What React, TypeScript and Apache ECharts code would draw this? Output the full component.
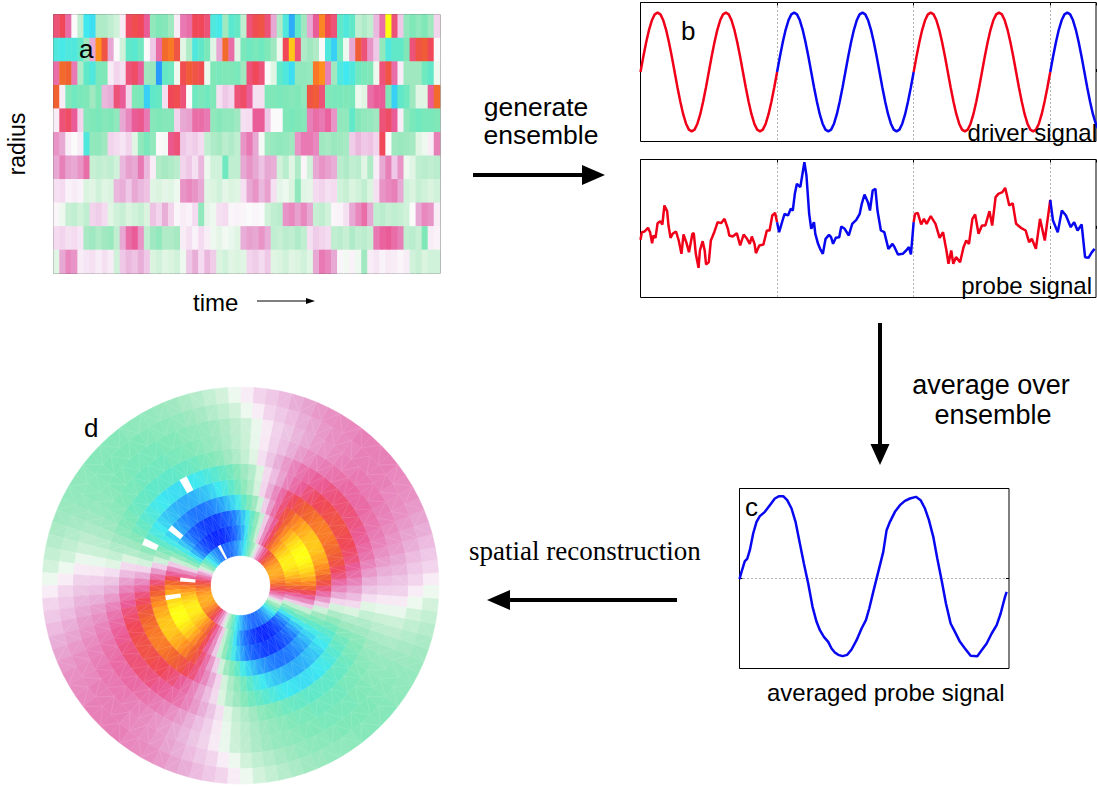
import React, { useEffect, useRef } from "react";
import * as echarts from "echarts";

const colorScale = ["#0a28ff","#1550ff","#2080ff","#30b8f8","#40e8f0","#60e8c8","#80e8b8","#a0e8c0","#c0eed0","#e0f5e4","#fafafa","#f5e0f2","#eec8e6","#e8a8d4","#e880b8","#ea5c98","#f04858","#f06030","#ff9020","#ffc818","#ffff10"];

const heatRows: number[][] = [
[.55,.6,.45,0,-.2,-.6,-.62,-.25,-.25,-.2,-.15,.05,.58,.62,.6,.5,-.35,-.4,-.38,-.3,.05,.42,.45,.6,.6,.55,-.55,-.58,-.3,-.52,-.48,-.2,.55,.62,.65,.55,.3,-.25,-.55,-.72,-.5,-.3,.3,.5,.78,.6,.55,-.5,-.55,-.5,-.2,-.25,-.2,.25,.45,1,.55,.2,-.35,-.4,-.35,-.4,-.3,.15],
[-.55,-.58,-.55,-.55,-.5,-.3,.3,.8,.65,.3,0,-.15,-.5,-.52,-.45,0,.2,.45,.72,.75,.65,-.1,-.25,-.55,-.5,-.42,-.1,.3,.72,.45,-.1,-.42,-.45,-.42,-.45,-.4,-.3,-.05,.6,.9,.55,-.25,-.3,-.25,0,-.55,-.65,-.45,-.05,.3,.68,.55,.35,.2,-.35,-.55,-.5,-.5,-.4,.55,.65,.68,.6,0],
[.45,.72,.7,.42,-.25,-.5,-.55,-.42,-.4,.05,.15,.1,.55,.58,.5,-.3,-.32,-.75,-.48,-.45,-.05,.62,.68,.65,.62,-.05,-.4,-.42,-.4,-.4,-.42,-.3,.55,.6,.55,0,-.1,-.5,-.55,-.62,-.35,-.35,-.33,.75,.8,.4,-.3,-.55,-.6,-.55,-.45,-.42,-.4,-.05,.55,.65,.45,.05,-.3,-.3,-.3,-.45,-.5,-.05],
[.7,.05,-.4,-.45,-.42,-.4,-.3,-.4,.25,.28,.55,.5,.15,-.4,-.42,-.65,-.5,-.48,.1,.6,.62,.55,0,-.45,-.42,-.45,-.4,.1,.2,.15,.55,.58,.5,.1,.1,-.4,-.4,-.42,-.4,-.38,-.4,-.35,.65,.68,.55,-.4,-.42,-.42,-.4,-.42,-.05,-.1,.45,.5,.5,-.4,-.65,-.5,-.45,-.3,-.1,-.1,.5,.72],
[.05,.55,.58,.5,.15,-.38,-.4,-.42,-.38,-.4,-.35,.3,.38,.5,.52,.42,-.38,-.4,-.38,-.38,.15,.3,.32,.45,.45,.42,-.35,-.38,-.35,-.35,-.3,.1,.12,.5,.5,.2,0,0,-.4,-.42,-.4,-.38,.4,.45,.42,.48,.35,-.35,-.35,-.5,-.38,-.35,-.33,-.3,.55,.58,.5,.05,-.35,-.42,-.45,-.42,-.42,-.4],
[.35,.3,.05,0,.05,-.55,-.35,-.35,-.3,.15,.12,.08,.15,-.1,-.35,-.42,-.35,0,-.02,.52,.55,.2,.15,.18,.12,-.2,-.25,-.28,-.22,-.25,-.2,.35,.42,.3,-.02,-.3,-.33,-.35,-.33,-.3,.35,.42,.42,.38,-.3,-.28,-.32,-.3,-.28,.18,.25,.2,.22,.15,.6,0,-.3,-.32,-.3,-.28,-.1,-.05,.05,.4],
[.3,.4,.32,.3,.35,.45,-.18,-.2,-.18,-.2,-.15,.25,.32,.3,.42,.25,.05,-.25,-.28,-.25,-.22,.15,.2,.1,.25,-.05,-.15,-.15,-.45,-.2,-.2,.3,.35,.3,.22,.3,.28,-.15,-.22,-.1,-.25,.02,-.15,.3,.35,.32,.28,-.22,-.25,-.2,-.22,-.1,-.25,.05,.3,.4,.2,.35,-.05,-.1,-.2,-.22,-.2,-.22],
[.1,.12,.03,.05,.03,-.12,-.1,-.15,-.1,-.12,.25,.28,.2,.3,.25,.22,-.1,-.12,-.08,-.1,-.05,.35,.38,.35,.3,-.1,-.12,-.15,-.08,-.12,-.1,.1,.3,.35,.25,.32,.1,-.08,-.05,-.12,-.35,-.1,-.08,.12,.15,.1,.12,-.15,-.18,-.12,-.15,-.2,-.12,.1,.35,.38,.4,.3,-.15,-.12,-.18,-.15,-.12,-.15],
[.02,-.05,-.18,-.2,-.15,-.2,.15,.18,.12,-.1,-.15,-.18,-.12,-.15,-.18,-.12,.22,.15,.28,.15,.02,.05,.03,.12,-.35,-.08,-.05,.1,.12,.02,.03,.02,0,.02,0,-.15,-.2,-.22,.35,.38,.32,.38,.3,-.18,-.2,-.15,.02,.03,.1,.3,.38,.45,.3,-.2,-.22,-.18,-.2,-.18,-.15,0,.3,.38,.35,.05],
[.12,.15,.1,.12,.08,-.28,-.3,-.25,-.3,-.32,-.2,.3,.45,.5,.35,-.2,-.3,-.35,-.25,-.25,-.28,.05,.1,.03,.12,.05,-.05,-.08,-.03,-.06,-.1,.28,.32,.3,.35,.28,-.2,-.18,-.22,-.2,-.25,-.2,.1,.18,.15,.12,-.2,-.22,-.18,-.25,-.2,-.22,-.18,.42,.48,.5,.45,.4,-.2,-.22,-.18,-.4,.05,.03],
[-.1,.3,.38,.35,.05,.08,.1,.05,.1,.05,-.15,.2,.25,.22,.28,.2,-.12,-.15,-.1,-.12,-.15,-.05,.2,.28,.12,.25,.18,-.12,-.15,-.1,-.12,-.1,.15,.18,.12,.2,-.1,-.12,-.15,-.1,-.12,-.15,-.1,.3,.42,.38,.3,.02,-.03,.03,-.05,-.3,.05,.08,.03,.06,.05,.02,.05,-.15,-.18,-.12,-.15,-.15],
];

const driverLevels = [
0,.26,.5,.71,.87,.97,1,.97,.87,.71,.5,.26,0,-.26,-.5,-.71,-.87,-.97,-1,-.97,-.87,-.71,-.5,-.26,
0,.26,.5,.71,.87,.97,1,.97,.87,.71,.5,.26,0,-.26,-.5,-.71,-.87,-.97,-1,-.97,-.87,-.71,-.5,-.26,
0,.26,.5,.71,.87,.97,1,.97,.87,.71,.5,.26,0,-.26,-.5,-.71,-.87,-.97,-1,-.97,-.87,-.71,-.5,-.26,
0,.26,.5,.71,.87,.97,1,.97,.87,.71,.5,.26,0,-.26,-.5,-.71,-.87,-.97,-1,-.97,-.87,-.71,-.5,-.26,
0,.26,.5,.71,.87,.97,1,.97,.87,.71,.5,.26,0,-.26,-.5,-.71,-.87,-.97,-1,-.97,-.87,-.71,-.5,-.26,
0,.26,.5,.71,.87,.97,1,.97,.87,.71,.5,.26,0,-.26,-.5,-.71,-.87,-.97,-1,-.97,-.87,-.71,-.5,-.26,
0,.26,.5,.71,.87,.97,1,.97,.87,.71,.5,.26,0,-.26,-.5,-.71,-.87,-.97,
];

const probeA = [[0,-.33],[.02,-.1],[.06,-.08],[.11,.03],[.14,-.1],[.17,-.43],[.19,-.2],[.22,-.27],[.25,.17],[.29,.23],[.32,.13],[.35,.7],[.39,.53],[.41,.1],[.44,-.27],[.47,-.15],[.52,-.08],[.56,-.35],[.6,-.75],[.63,-.17],[.67,-.4],[.71,-.7],[.76,-.15],[.78,-.13],[.81,-.75],[.85,-1.17],[.87,-.65],[.91,-.37],[.94,-.65],[.96,-1.07],[1,-1],[1.03,-.35],[1.08,-.1],[1.13,.2],[1.18,.17],[1.23,.3],[1.28,0],[1.3,-.2],[1.35,-.23],[1.41,-.13],[1.46,-.5],[1.51,-.17],[1.56,-.3],[1.6,-.45],[1.63,-.23],[1.67,-.45],[1.69,-.73],[1.74,-.5],[1.8,-.47],[1.85,-.05],[1.89,-.05],[1.93,.4],[1.97,.48],[2,.2]];
const probeB = [[2,.2],[2.03,-.1],[2.08,.25],[2.11,.45],[2.16,.4],[2.2,.6],[2.23,.55],[2.26,1.05],[2.29,1.35],[2.34,1.25],[2.38,1.75],[2.4,2],[2.43,1.6],[2.47,.45],[2.5,0],[2.54,.2],[2.56,-.15],[2.6,-.45],[2.63,-.6],[2.67,-.75],[2.71,-.3],[2.76,-.18],[2.79,-.25],[2.82,-.45],[2.86,-.27],[2.91,-.25],[2.94,.07],[2.99,0],[3.05,-.2],[3.1,.15],[3.16,.27],[3.21,.45],[3.24,.75],[3.28,1.03],[3.33,.8],[3.36,.55],[3.4,1.15],[3.44,1.2],[3.47,.55],[3.52,-.05],[3.57,-.1],[3.63,-.6],[3.69,-.45],[3.72,-.55],[3.77,-.77],[3.84,-.75],[3.89,-.65],[3.93,-.55],[3.96,-.77],[4,.2]];
const probeC = [[4,.2],[4.02,.45],[4.06,.48],[4.11,.13],[4.15,.3],[4.19,.15],[4.25,.38],[4.32,.15],[4.38,-.27],[4.43,-.1],[4.48,-.65],[4.51,-1.05],[4.55,-.65],[4.58,-1.05],[4.62,-.85],[4.68,-1],[4.73,-.55],[4.77,-.35],[4.81,-.45],[4.86,.3],[4.9,.43],[4.95,-.15],[5,.1],[5.05,.1],[5.11,.53],[5.15,.1],[5.2,.95],[5.24,1.05],[5.3,1.1],[5.34,1.23],[5.4,.7],[5.45,.77],[5.5,.15],[5.57,.03],[5.64,-.05],[5.69,-.4],[5.73,-.3],[5.79,-.6],[5.85,.3],[5.92,-.35],[6,.87]];
const probeD = [[6,.87],[6.04,.25],[6.11,-.1],[6.17,.55],[6.23,.4],[6.3,.05],[6.35,.2],[6.4,-.05],[6.46,.13],[6.51,-.85],[6.56,-.87],[6.61,-.7],[6.65,-.6]];

const averaged = [[0,-.02],[.06,.2],[.16,.52],[.23,.59],[.31,.85],[.41,1.35],[.51,1.7],[.61,1.87],[.76,2],[.91,2.2],[1.06,2.4],[1.19,2.47],[1.31,2.47],[1.43,2.35],[1.56,2.1],[1.68,1.7],[1.81,1.05],[1.93,.45],[2.06,-.15],[2.19,-.85],[2.31,-1.3],[2.41,-1.55],[2.53,-1.75],[2.66,-1.9],[2.76,-2.1],[2.86,-2.22],[2.96,-2.29],[3.09,-2.33],[3.23,-2.29],[3.36,-2.13],[3.51,-1.85],[3.66,-1.5],[3.79,-1.25],[3.89,-.9],[4.01,-.4],[4.16,.2],[4.31,.8],[4.41,1.45],[4.51,1.7],[4.66,2],[4.81,2.2],[4.96,2.33],[5.11,2.4],[5.29,2.45],[5.43,2.35],[5.56,2.1],[5.68,1.75],[5.81,1.25],[5.93,.6],[6.06,-.05],[6.19,-.75],[6.33,-1.35],[6.46,-1.6],[6.61,-1.9],[6.76,-2.1],[6.93,-2.32],[7.13,-2.33],[7.26,-2.15],[7.41,-1.95],[7.56,-1.65],[7.71,-1.4],[7.83,-1.05],[7.96,-.55],[8.01,-.4]];

// one half turn of each ring of panel d, innermost ring first, starting where the ring turns positive
const ringLevels: number[][] = [
[.17,.32,.43,.52,.6,.66,.71,.76,.79,.82,.84,.85,.85,.84,.82,.79,.76,.71,.66,.6,.52,.43,.32,.17,-.17,-.32,-.43,-.52,-.6,-.66,-.71,-.76,-.79,-.82,-.84,-.85,-.85,-.84,-.82,-.79,-.76,-.71,-.66,-.6,-.52,-.43,-.32,-.17],
[.19,.37,.49,.59,.69,.76,.81,.86,.9,.93,.96,.97,.97,.96,.93,.9,.86,.81,.76,.69,.59,.49,.37,.19,-.2,-.38,-.5,-.61,-.71,-.78,-.84,-.89,-.93,-.96,-.99,-1,-1,-.99,-.96,-.93,-.89,-.84,-.78,-.71,-.61,-.5,-.38,-.2],
[.2,.38,.5,.61,.71,.78,.84,.89,.93,.96,.99,1,1,.99,.96,.93,.89,.84,.78,.71,.61,.5,.38,.2,-.19,-.36,-.48,-.58,-.67,-.74,-.8,-.85,-.88,-.91,-.94,-.95,-.95,-.94,-.91,-.88,-.85,-.8,-.74,-.67,-.58,-.48,-.36,-.19],
[.18,.34,.45,.55,.64,.7,.76,.8,.84,.86,.89,.9,.9,.89,.86,.84,.8,.76,.7,.64,.55,.45,.34,.18,-.16,-.31,-.41,-.5,-.58,-.64,-.69,-.73,-.76,-.79,-.81,-.82,-.82,-.81,-.79,-.76,-.73,-.69,-.64,-.58,-.5,-.41,-.31,-.16],
[.15,.29,.38,.46,.54,.59,.64,.68,.71,.73,.75,.76,.76,.75,.73,.71,.68,.64,.59,.54,.46,.38,.29,.15,-.14,-.27,-.36,-.44,-.51,-.56,-.6,-.64,-.67,-.69,-.71,-.72,-.72,-.71,-.69,-.67,-.64,-.6,-.56,-.51,-.44,-.36,-.27,-.14],
[.13,.24,.32,.39,.45,.5,.54,.57,.6,.61,.63,.64,.64,.63,.61,.6,.57,.54,.5,.45,.39,.32,.24,.13,-.12,-.24,-.31,-.38,-.44,-.48,-.52,-.55,-.58,-.6,-.61,-.62,-.62,-.61,-.6,-.58,-.55,-.52,-.48,-.44,-.38,-.31,-.24,-.12],
[.11,.21,.28,.34,.39,.43,.46,.49,.51,.53,.54,.55,.55,.54,.53,.51,.49,.46,.43,.39,.34,.28,.21,.11,-.1,-.19,-.25,-.3,-.36,-.39,-.42,-.45,-.47,-.48,-.5,-.5,-.5,-.5,-.48,-.47,-.45,-.42,-.39,-.36,-.3,-.25,-.19,-.1],
[.07,.17,.23,.28,.33,.36,.39,.41,.43,.44,.46,.46,.46,.46,.44,.43,.41,.39,.36,.33,.28,.23,.17,.07,-.07,-.17,-.22,-.27,-.31,-.34,-.37,-.39,-.41,-.42,-.44,-.44,-.44,-.44,-.42,-.41,-.39,-.37,-.34,-.31,-.27,-.22,-.17,-.07],
[.06,.16,.21,.26,.3,.33,.35,.37,.39,.4,.42,.42,.42,.42,.4,.39,.37,.35,.33,.3,.26,.21,.16,.06,-.06,-.16,-.21,-.26,-.3,-.33,-.35,-.37,-.39,-.4,-.42,-.42,-.42,-.42,-.4,-.39,-.37,-.35,-.33,-.3,-.26,-.21,-.16,-.06],
[.05,.15,.2,.24,.28,.31,.34,.36,.37,.38,.4,.4,.4,.4,.38,.37,.36,.34,.31,.28,.24,.2,.15,.05,-.05,-.15,-.2,-.24,-.28,-.31,-.34,-.36,-.37,-.38,-.4,-.4,-.4,-.4,-.38,-.37,-.36,-.34,-.31,-.28,-.24,-.2,-.15,-.05],
[.05,.15,.2,.24,.28,.31,.34,.36,.37,.38,.4,.4,.4,.4,.38,.37,.36,.34,.31,.28,.24,.2,.15,.05,-.05,-.14,-.19,-.23,-.27,-.3,-.32,-.34,-.35,-.36,-.38,-.38,-.38,-.38,-.36,-.35,-.34,-.32,-.3,-.27,-.23,-.19,-.14,-.05],
];
const ringStart = [-6,-5,-5,-4,-3,-3,-2,-2,-2,-1,0];
const blankCells = [[5,31],[3,37],[4,41],[0,31],[1,46],[2,50]];

const SECTORS = 96;
const heatData: number[][] = [];
heatRows.forEach((row, y) => row.forEach((v, x) => heatData.push([x, y, v])));
const ringData: number[][] = [];
ringLevels.forEach((row, ring) => {
  for (let k = 0; k < SECTORS; k++) {
    const s = ((k + ringStart[ring]) % SECTORS + SECTORS) % SECTORS;
    ringData.push([ring, s, row[k % row.length]]);
  }
});
const driverPoints = driverLevels.map((v, i) => [i / 24, v]);
const RED = "#f00018", BLUE = "#0808f0";
const rowNames = heatRows.map((_, i) => String(i));
const colNames = heatRows[0].map((_, i) => String(i));

function cellItem(params: any, api: any) {
  const ring = api.value(0), s = api.value(1);
  const a = api.coord([ring, s]), b = api.coord([ring + 1, s]);
  const c = api.coord([ring + 1, s + 1]), d = api.coord([ring, s + 1]);
  const color = api.visual("color");
  return {
    type: "group",
    children: [
      { type: "polygon", shape: { points: [a, b, c, d] }, style: { fill: color, stroke: color, lineWidth: 0.5 } },
      { type: "line", shape: { x1: s % 2 ? a[0] : b[0], y1: s % 2 ? a[1] : b[1], x2: s % 2 ? c[0] : d[0], y2: s % 2 ? c[1] : d[1] }, style: { stroke: "rgba(255,255,255,0.2)", lineWidth: 0.6 } },
    ],
  };
}
function blankItem(params: any, api: any) {
  const ring = api.value(0), s = api.value(1);
  return {
    type: "polygon",
    shape: { points: [api.coord([ring, s]), api.coord([ring + 1, s]), api.coord([ring + 1, s + 1]), api.coord([ring, s + 1])] },
    style: { fill: "#fff" },
  };
}

const label = (text: string, x: number, y: number, size: number, family = "Liberation Sans", align = "left") => ({
  type: "text", z: 100, style: { text, x, y, fill: "#000", font: `${size}px "${family}"`, textAlign: align, textVerticalAlign: "middle" },
});
const arrow = (x1: number, y1: number, x2: number, y2: number, w: number, hl: number, hw: number) => {
  const L = Math.hypot(x2 - x1, y2 - y1), ux = (x2 - x1) / L, uy = (y2 - y1) / L;
  const bx = x2 - ux * hl, by = y2 - uy * hl;
  return [
    { type: "line", z: 100, shape: { x1, y1, x2: bx, y2: by }, style: { stroke: "#000", lineWidth: w } },
    { type: "polygon", z: 100, shape: { points: [[x2, y2], [bx - uy * hw, by + ux * hw], [bx + uy * hw, by - ux * hw]] }, style: { fill: "#000" } },
  ];
};

const DOTTED = { type: [1, 3], color: "#666", width: 1 };
const boxGrid = (left: number, top: number, width: number, height: number, borderColor = "#000") => ({ left, top, width, height, show: true, borderColor, borderWidth: 1, containLabel: false });
const timeAxis = (gridIndex: number, position: string, max: number) => ({
  type: "value", gridIndex, position, min: 0, max, interval: 2,
  axisLine: { show: false }, axisLabel: { show: false },
  axisTick: { show: true, inside: true, length: 3, lineStyle: { color: "#000", width: 1 } },
  splitLine: { show: position === "bottom", showMinLine: false, showMaxLine: false, lineStyle: DOTTED },
});
const levelAxis = (position: string) => ({
  type: "value", gridIndex: 3, position, min: -2.7, max: 2.7, interval: 2.7,
  axisLine: { show: false }, axisLabel: { show: false },
  axisTick: { show: true, inside: true, length: 3, lineStyle: { color: "#000" } },
  splitLine: { show: position === "left", showMinLine: false, showMaxLine: false, lineStyle: DOTTED },
});
const line = (name: string, data: number[][], color: string, axis: number, yAxis: number) => ({
  name, type: "line", data, xAxisIndex: axis, yAxisIndex: yAxis, showSymbol: false, symbol: "none",
  lineStyle: { color, width: 2.5 }, silent: true, z: 5,
});

export default function App() {
  const ref = useRef<HTMLDivElement>(null);
  useEffect(() => {
    document.body.style.margin = "0";
    const chart = echarts.init(ref.current!, undefined, { renderer: "svg" });
    chart.setOption({
      animation: false,
      backgroundColor: "#fff",
      grid: [
        boxGrid(53.5, 14.5, 386.5, 259, "#555"),
        boxGrid(640.5, 2.5, 455.5, 139),
        boxGrid(640.5, 159.5, 455.5, 138),
        boxGrid(739.5, 488.5, 269.5, 180),
      ],
      xAxis: [
        { type: "category", gridIndex: 0, data: colNames, show: false },
        timeAxis(1, "bottom", 6.67), timeAxis(1, "top", 6.67),
        timeAxis(2, "bottom", 6.67), timeAxis(2, "top", 6.67),
        { type: "value", gridIndex: 3, min: 0, max: 8.08, show: false },
      ],
      yAxis: [
        { type: "category", gridIndex: 0, data: rowNames, inverse: true, show: false },
        { type: "value", gridIndex: 1, min: -1.17, max: 1.17, show: false },
        { type: "value", gridIndex: 2, min: -2.06, max: 2.08, show: false },
        levelAxis("left"),
        levelAxis("right"),
      ],
      polar: { center: [240.5, 585.5], radius: [30, 198.5] },
      radiusAxis: { type: "value", min: 0, max: 11, show: false },
      angleAxis: { type: "value", min: 0, max: SECTORS, startAngle: 0, clockwise: false, show: false },
      visualMap: { show: false, min: -1, max: 1, dimension: 2, seriesIndex: [0, 1], inRange: { color: colorScale } },
      series: [
        { type: "heatmap", data: heatData, xAxisIndex: 0, yAxisIndex: 0, silent: true, itemStyle: { borderWidth: 0 } },
        { type: "custom", coordinateSystem: "polar", data: ringData, renderItem: cellItem, silent: true, z: 3 },
        { type: "custom", coordinateSystem: "polar", data: blankCells, renderItem: blankItem, silent: true, z: 4 },
        line("driver 1", driverPoints.slice(0, 49), RED, 1, 1),
        line("driver 2", driverPoints.slice(48, 97), BLUE, 1, 1),
        line("driver 3", driverPoints.slice(96, 145), RED, 1, 1),
        line("driver 4", driverPoints.slice(144), BLUE, 1, 1),
        line("probe 1", probeA, RED, 3, 2),
        line("probe 2", probeB, BLUE, 3, 2),
        line("probe 3", probeC, RED, 3, 2),
        line("probe 4", probeD, BLUE, 3, 2),
        line("averaged", averaged, BLUE, 5, 3),
      ],
      graphic: [
        label("a", 79, 49, 26),
        label("b", 681, 31, 26),
        label("c", 745, 507, 26),
        label("d", 84, 428, 26),
        label("time", 193, 302, 24),
        { type: "text", z: 100, x: 17, y: 144, rotation: Math.PI / 2, style: { text: "radius", fill: "#000", font: '23px "Liberation Sans"', textAlign: "center", textVerticalAlign: "middle" } },
        label("generate", 536, 107, 26.5, "Liberation Sans", "center"),
        label("ensemble", 541, 135, 26.5, "Liberation Sans", "center"),
        label("average over", 991, 385, 27, "Liberation Sans", "center"),
        label("ensemble", 993, 415, 27, "Liberation Sans", "center"),
        label("driver signal", 1097, 132, 24, "Liberation Sans", "right"),
        label("probe signal", 1092, 285, 24, "Liberation Sans", "right"),
        label("averaged probe signal", 767, 692, 24),
        label("spatial reconstruction", 469, 551, 27, "Liberation Serif"),
        ...arrow(473, 175, 605, 175, 4, 23, 10),
        ...arrow(880, 323, 880, 465, 4, 21, 9.5),
        ...arrow(677, 600, 487, 600, 4, 23, 10),
        ...arrow(257, 301, 315, 301, 1.2, 9, 3),
      ],
    });
    return () => chart.dispose();
  }, []);
  return <div ref={ref} style={{ position: "absolute", left: 0, top: 0, width: 1097, height: 787 }} />;
}
